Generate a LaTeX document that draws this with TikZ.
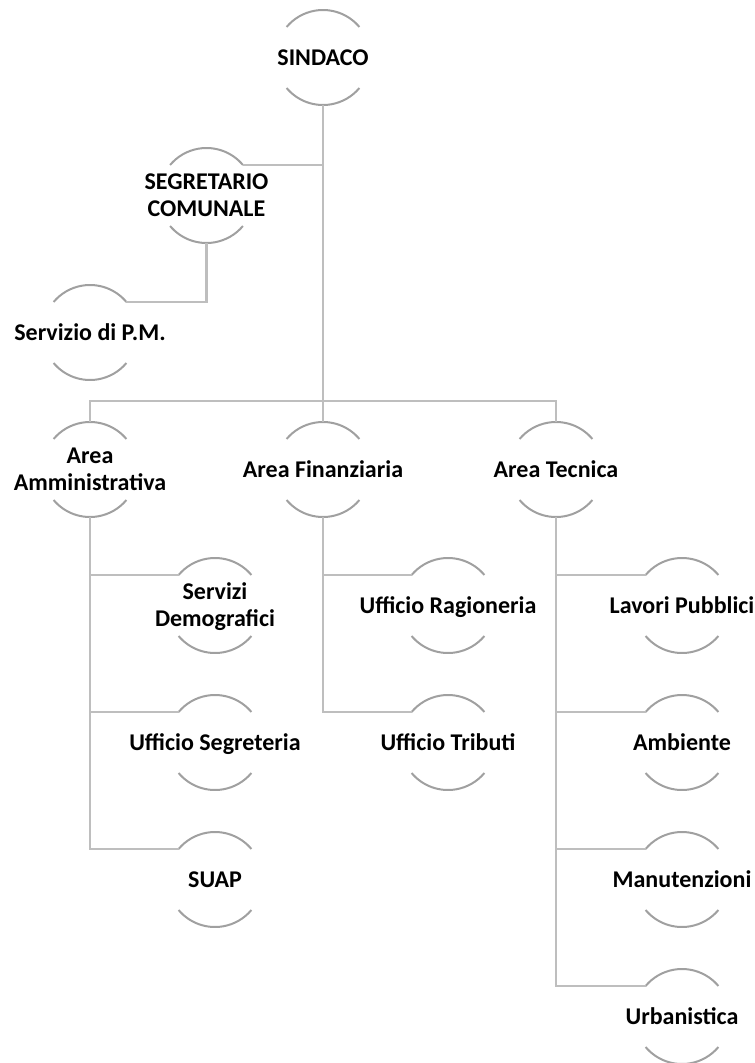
\documentclass[tikz,border=0pt]{standalone}
\usepackage{fontspec}
\setmainfont{Carlito}[BoldFont={Carlito Bold}]
\usetikzlibrary{calc}
\definecolor{arcgray}{HTML}{A0A0A0}
\definecolor{conngray}{HTML}{BEBEBE}
\tikzset{
  arcline/.style={draw=arcgray, line width=2pt},
  conn/.style={draw=conngray, line width=2.2pt},
  lbl/.style={font=\bfseries\fontsize{24}{27}\selectfont, align=center, anchor=base, inner sep=0pt, text=black}
}
% #1 name, #2 x, #3 y, #4 baseline offset (last line), #5 text
\newcommand\orgunit[5]{%
  \coordinate (#1) at (#2,#3);
  \coordinate (#1-n) at ($(#1)+(0pt,47.5pt)$);
  \coordinate (#1-s) at ($(#1)+(0pt,-47.5pt)$);
  \coordinate (#1-ne) at ($(#1)+(40:47.5pt)$);
  \coordinate (#1-nw) at ($(#1)+(140:47.5pt)$);
  \draw[arcline] (#1-ne) arc[start angle=40,end angle=140,radius=47.5pt];
  \draw[arcline] ($(#1)+(220:47.5pt)$) arc[start angle=220,end angle=320,radius=47.5pt];
  \node[lbl] (#1-t) at ($(#1)+(0pt,#4pt)$) {#5};
}
\begin{document}
\begin{tikzpicture}[x=1pt,y=1pt]
\useasboundingbox (0,0) rectangle (755,-1063);
% units
\orgunit{sindaco}{323}{-57.5}{-7.5}{SINDACO}
\orgunit{segr}{206.5}{-195.5}{-21}{SEGRETARIO\\COMUNALE}
\orgunit{pm}{90}{-332.5}{-7.5}{Servizio di P.M.}
\orgunit{area1}{90}{-469.5}{-21}{Area\\Amministrativa}
\orgunit{area2}{323}{-469.5}{-7.5}{Area Finanziaria}
\orgunit{area3}{556}{-469.5}{-7.5}{Area Tecnica}
\orgunit{dem}{215}{-605.5}{-21}{Servizi\\Demografici}
\orgunit{segreteria}{215}{-742.5}{-7.5}{Ufficio Segreteria}
\orgunit{suap}{215}{-879.5}{-7.5}{SUAP}
\orgunit{rag}{448}{-605.5}{-7.5}{Ufficio Ragioneria}
\orgunit{tributi}{448}{-742.5}{-7.5}{Ufficio Tributi}
\orgunit{lavori}{682}{-605.5}{-7.5}{Lavori Pubblici}
\orgunit{ambiente}{682}{-742.5}{-7.5}{Ambiente}
\orgunit{manut}{682}{-879.5}{-7.5}{Manutenzioni}
\orgunit{urban}{682}{-1016.5}{-7.5}{Urbanistica}
% connectors
\coordinate (bar) at (0,-401);
\draw[conn] (sindaco-s) -- (area2-n);
\draw[conn] (area1-n) -- (area1-n |- bar) -- (area3-n |- bar) -- (area3-n);
\draw[conn] (segr-ne) -- (segr-ne -| sindaco);
\draw[conn] (segr-s) |- (pm-ne);
\draw[conn] (area1-s) |- (dem-nw);
\draw[conn] (area1-s) |- (segreteria-nw);
\draw[conn] (area1-s) |- (suap-nw);
\draw[conn] (area2-s) |- (rag-nw);
\draw[conn] (area2-s) |- (tributi-nw);
\draw[conn] (area3-s) |- (lavori-nw);
\draw[conn] (area3-s) |- (ambiente-nw);
\draw[conn] (area3-s) |- (manut-nw);
\draw[conn] (area3-s) |- (urban-nw);
\end{tikzpicture}
\end{document}
